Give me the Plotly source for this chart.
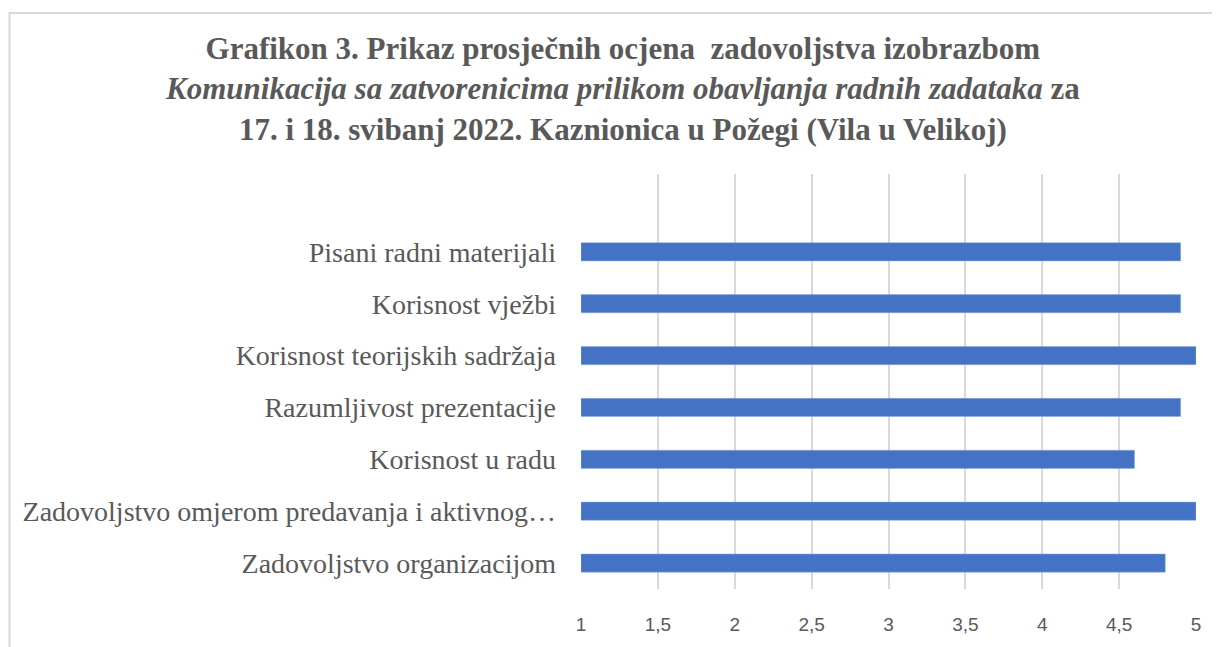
import plotly.graph_objects as go

categories = [
    "Zadovoljstvo organizacijom",
    "Zadovoljstvo omjerom predavanja i aktivnog…",
    "Korisnost u radu",
    "Razumljivost prezentacije",
    "Korisnost teorijskih sadržaja",
    "Korisnost vježbi",
    "Pisani radni materijali",
]
values = [4.8, 5.0, 4.6, 4.9, 5.0, 4.9, 4.9]
tick_vals = [1, 1.5, 2, 2.5, 3, 3.5, 4, 4.5, 5]
tick_text = ["1", "1,5", "2", "2,5", "3", "3,5", "4", "4,5", "5"]

OFF = 8  # page body margin
W, H = 1212, 639
L, R, T, B = 581 - OFF, 24, 174 - OFF, 53
pw, ph = W - L - R, H - T - B

fig = go.Figure()
fig.add_trace(go.Bar(
    y=categories, x=[v - 1 for v in values], base=1, orientation="h",
    marker=dict(color="#4472C4", line=dict(color="#8faadc", width=0.5)),
    width=0.35, hoverinfo="skip",
))

fig.update_layout(
    width=W, height=H,
    margin=dict(l=L, r=R, t=T, b=B),
    paper_bgcolor="white", plot_bgcolor="white",
    showlegend=False,
    xaxis=dict(
        range=[1, 5], tickvals=tick_vals, ticktext=tick_text,
        showgrid=True, gridcolor="#d9d9d9", gridwidth=1.5,
        zeroline=False, showline=False, ticks="",
        tickfont=dict(family="Liberation Sans Narrow, Liberation Sans, sans-serif", size=19, color="#595959"),
        ticklabelstandoff=22,
    ),
    yaxis=dict(
        type="category", categoryorder="array", categoryarray=categories,
        range=[-0.5, 7.5],
        showgrid=False, zeroline=False, showline=False, ticks="",
        tickfont=dict(family="Liberation Serif, Times New Roman, serif", size=28, color="#595959"),
        ticklabelstandoff=24,
    ),
)

title = ("<b>Grafikon 3. Prikaz prosječnih ocjena  zadovoljstva izobrazbom</b><br>"
         "<b><i>Komunikacija sa zatvorenicima prilikom obavljanja radnih zadataka</i> za</b><br>"
         "<b>17. i 18. svibanj 2022. Kaznionica u Požegi (Vila u Velikoj)</b>")
fig.add_annotation(
    text=title, xref="paper", yref="paper",
    x=(622 - OFF - L) / pw, y=(H - B - (88 - OFF)) / ph,
    yanchor="middle", xanchor="center",
    showarrow=False, align="center",
    font=dict(family="Liberation Serif, Times New Roman, serif", size=31, color="#595959"),
)

# chart area border (top and left edges visible)
fig.add_shape(type="rect", xref="paper", yref="paper",
              x0=(1.5 - L) / pw, x1=(W + 10 - L) / pw,
              y0=(H - B - (H + 10)) / ph, y1=(H - B - (11 - OFF)) / ph,
              line=dict(color="#d9d9d9", width=2), fillcolor="rgba(0,0,0,0)", layer="below")

fig.write_html("out.html")
